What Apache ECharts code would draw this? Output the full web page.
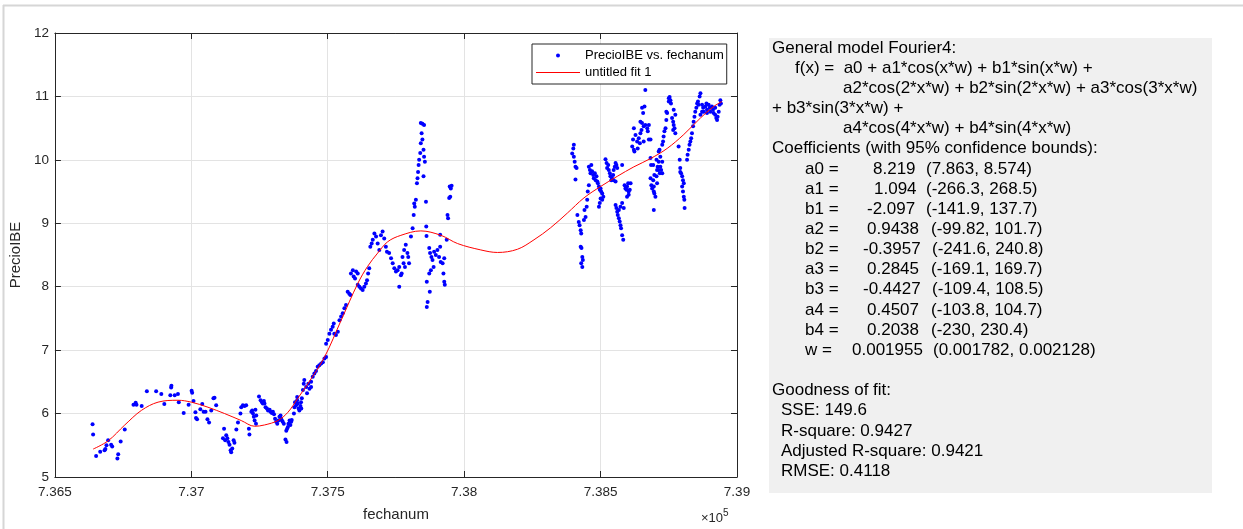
<!DOCTYPE html>
<html>
<head>
<meta charset="utf-8">
<title>PrecioIBE vs. fechanum</title>
<script src="https://cdn.jsdelivr.net/npm/echarts@6/dist/echarts.min.js"></script>
<style>
  html, body { margin: 0; padding: 0; background: #fff; }
  #chart { width: 1243px; height: 529px; }
</style>
</head>
<body>
<div id="chart"></div>
<script>
// datos [fechanum, PrecioIBE]
const precios2016 = [
  [736638,5.83],[736640,5.67],[736651,5.33],[736666,5.40],[736682,5.42],[736685,5.44],[736689,5.50],[736695,5.58],
  [736706,5.51],[736710,5.48],[736729,5.29],[736732,5.36],[736741,5.56],[736756,5.75],[736788,6.14],[736796,6.17],
  [736799,6.14],[736818,6.12],[736837,6.35],[736871,6.35],[736890,6.31],[736901,6.15],[736923,6.29],[736926,6.41],
  [736927,6.44],[736939,6.29],[736951,6.31],[736954,6.18],[736972,6.01],[736990,6.14],[737001,6.36],[737003,6.33],
  [737008,6.20],[737015,6.02],[737017,5.93],[737021,5.91],[737033,6.07],[737040,6.15],[737045,6.03],[737052,6.03],
  [737059,5.91],[737065,5.86],[737073,6.05],[737081,6.24],[737085,6.25],[737091,6.13]
];
const precios2017 = [
  [737120,5.76],[737116,5.61],[737124,5.58],[737132,5.61],[737128,5.66],[737136,5.55],[737140,5.51],[737144,5.42],
  [737146,5.39],[737150,5.45],[737155,5.58],[737158,5.54],[737165,5.75],[737171,5.86],[737180,6.00],[737183,6.10],
  [737189,6.13],[737195,6.12],[737201,6.13],[737213,5.67],[737211,5.76],[737220,6.03],[737223,6.05],[737226,6.00],
  [737229,5.95],[737232,5.89],[737235,6.06],[737238,5.97],[737237,5.84],[737248,6.27],[737254,6.21],[737259,6.18],
  [737262,6.16],[737266,6.20],[737268,6.16],[737272,6.10],[737277,6.08],[737281,6.05],[737287,6.06],[737290,6.03],
  [737295,6.01],[737299,6.03],[737303,5.99],[737307,5.92],[737311,5.87],[737315,5.84],[737319,5.89],[737323,5.95],
  [737327,5.97],[737329,5.92],[737332,5.89],[737335,5.87],[737339,5.84],[737348,5.73],[737351,5.76],[737354,5.79],
  [737356,5.84],[737360,5.89],[737366,5.87],[737368,5.90],[737363,5.82],[737345,5.59],[737349,5.55],[737376,6.00],
  [737378,6.10],[737380,6.18],[737384,6.13],[737388,6.21],[737390,6.16],[737393,6.08],[737396,6.05],[737400,6.12],
  [737402,6.18],[737405,6.24],[737403,6.08],[737388,6.26],[737409,6.37],[737412,6.47],[737414,6.53],[737421,6.42],
  [737424,6.32],[737429,6.47],[737433,6.39],[737439,6.50],[737439,6.42],[737445,6.58],[737451,6.63],[737457,6.67]
];
const precios2018 = [
  [737463,6.74],[737469,6.76],[737476,6.79],[737482,6.81],[737488,6.87],[737494,6.89],[737494,7.10],[737500,7.16],
  [737506,7.26],[737512,7.32],[737518,7.37],[737522,7.42],[737524,7.26],[737530,7.24],[737537,7.29],[737543,7.47],
  [737549,7.53],[737555,7.58],[737561,7.66],[737567,7.71],[737573,7.92],[737579,7.89],[737583,7.87],[737585,8.21],
  [737592,8.26],[737595,8.16],[737600,8.13],[737604,8.24],[737610,8.21],[737610,8.03],[737616,8.00],[737622,7.97],
  [737628,7.95],[737634,8.00],[737640,8.05],[737644,8.10],[737648,8.21],[737652,8.29],[737656,8.63],[737661,8.68],
  [737665,8.74],[737671,8.84],[737677,8.79],[737683,8.68],[737689,8.58],[737695,8.81],[737701,8.87],[737707,8.76],
  [737713,8.63],[737717,8.55],[737725,8.53],[737732,8.45],[737738,8.37],[737744,8.29],[737750,8.24],[737756,8.26],
  [737762,8.31],[737768,8.18],[737762,8.00],[737780,8.58],[737786,8.66],[737792,8.53],[737798,8.37],[737774,8.47],
  [737778,8.37],[737783,8.31],[737795,8.47],[737771,8.21]
];
const precios2019 = [
  [737805,8.79],[737811,8.92],[737815,9.13],[737817,9.31],[737819,9.26],[737823,9.37],[737827,9.63],[737829,9.71],
  [737831,9.81],[737833,9.92],[737835,10.00],[737839,10.11],[737841,10.26],[737844,10.42],[737841,10.58],[737847,10.57],
  [737853,10.55],[737847,10.32],[737851,10.16],[737853,10.05],[737856,9.97],[737851,9.74],[737860,9.34],[737861,8.95],
  [737862,8.80],[737872,8.61],[737875,8.53],[737880,8.47],[737884,8.42],[737890,8.55],[737896,8.50],[737888,8.31],
  [737878,8.26],[737872,8.21],[737902,8.58],[737908,8.47],[737912,8.63],[737914,8.39],[737921,8.37],[737927,8.45],
  [737924,8.21],[737927,8.08],[737929,8.03],[737863,8.08],[737874,7.92],[737866,7.76],[737863,7.68],[737912,8.82],
  [737936,8.74],[737939,9.13],[737941,9.08],[737945,9.40],[737949,9.42],[737951,9.55],[737947,9.58],[737954,9.59]
];
const precios2021 = [
  [738402,10.24],[738400,10.18],[738396,10.10],[738402,10.05],[738405,9.97],[738408,9.89],[738412,9.87],[738408,9.69],
  [738415,9.13],[738420,9.02],[738423,8.97],[738427,8.89],[738429,8.84],[738427,8.63],[738430,8.61],[738433,8.47],
  [738435,8.42],[738429,8.37],[738433,8.31],[738439,9.05],[738445,9.10],[738441,9.21],[738449,9.26],[738451,9.37],
  [738453,9.50],[738457,9.60],[738457,9.89],[738461,9.84],[738463,9.79],[738466,9.92],[738469,9.82],[738473,9.76],
  [738475,9.71],[738479,9.79],[738482,9.68],[738485,9.74],[738488,9.66],[738490,9.63],[738494,9.58],[738497,9.53],
  [738500,9.55],[738502,9.50],[738506,9.47],[738500,9.39],[738497,9.32],[738494,9.26],[738506,9.37],[738510,9.42],
  [738518,10.01],[738522,9.95],[738524,9.87],[738528,9.92],[738530,9.84],[738534,9.79],[738536,9.74],[738539,9.68],
  [738542,9.71],[738546,9.76],[738548,9.84],[738552,9.89],[738555,9.95],[738558,9.92],[738561,9.87],[738548,9.68],
  [738555,9.66],[738555,9.29],[738558,9.24],[738561,9.18],[738563,9.13],[738567,9.08],[738570,9.03],[738573,8.97],
  [738575,8.92],[738579,8.81],[738583,8.74],[738567,9.21],[738573,9.26],[738579,9.32],[738585,9.24],[738579,9.92],
  [738588,9.60],[738591,9.55],[738595,9.53],[738597,9.58],[738601,9.63],[738603,9.50],[738607,9.53],[738610,9.63],
  [738603,9.45],[738597,9.42]
];
const precios2022 = [
  [738616,10.21],[738619,10.32],[738622,10.50],[738628,10.39],[738634,10.29],[738636,10.18],[738640,10.34],[738644,10.26],
  [738646,10.42],[738650,10.47],[738652,10.58],[738658,10.53],[738664,10.55],[738671,10.50],[738677,10.55],[738673,10.45],
  [738677,10.32],[738624,10.13],[738622,10.16],[738664,11.10],[738652,10.82],[738656,10.74],[738661,10.84],[738646,10.60],
  [738658,10.29],[738683,10.32],[738683,10.03],[738685,9.92],[738683,9.71],[738686,9.60],[738689,9.55],[738695,9.50],
  [738701,9.42],[738705,9.74],[738707,9.84],[738709,9.89],[738713,9.97],[738707,9.63],[738695,9.21],[738693,9.92],
  [738697,9.76],[738693,9.68],[738695,9.58],[738697,9.47],[738705,10.00],[738713,9.84],[738717,9.79],[738719,9.89],
  [738722,9.84],[738726,9.79],[738719,10.05],[738726,9.97],[738713,10.13],[738716,10.16],[738726,10.24],[738729,10.29],
  [738731,10.37],[738734,10.45],[738738,10.50],[738741,10.63],[738744,10.74],[738741,10.76],[738750,10.97],[738753,10.99],
  [738756,10.94],[738758,10.89],[738750,10.92],[738762,10.66],[738766,10.60],[738768,10.55],[738771,10.50],[738766,10.47],
  [738774,10.42],[738774,10.71],[738768,10.79],[738786,10.21],[738790,10.00],[738792,9.87],[738795,9.79],[738799,9.74],
  [738802,9.68],[738805,9.63],[738799,9.58],[738802,9.50],[738805,9.42],[738807,9.37],[738808,9.24],[738792,9.81],
  [738817,10.00],[738819,10.08],[738823,10.16],[738826,10.24],[738829,10.29],[738832,10.34],[738835,10.42],[738839,10.53],
  [738841,10.60],[738844,10.68],[738847,10.76],[738851,10.82],[738854,10.89],[738857,10.92],[738863,11.00],[738866,11.05],
  [738859,10.87],[738872,10.87],[738876,10.82],[738878,10.76],[738884,10.84],[738888,10.89],[738890,10.79],[738896,10.87],
  [738900,10.82],[738902,10.76],[738908,10.84],[738912,10.79],[738914,10.74],[738920,10.71],[738924,10.66],[738927,10.63],
  [738933,10.76],[738939,10.94],[738936,10.87],[738941,10.89],[738929,10.68],[738920,10.82],[738872,10.76],[738866,10.71],
  [738890,10.74]
];

// curva ajustada (untitled fit 1)
const fitDates = [736640,736695,736756,736817,736878,736951,737000,737061,737122,737183,737232,737268,737317,737354,
  737390,737427,737488,737549,737610,737646,737683,737720,737768,737841,737915,737976,738061,738122,738195,738256,
  738317,738378,738439,738500,738561,738622,738683,738744,738805,738866,738914,738945];
const fitValues = [5.44,5.57,5.82,6.05,6.18,6.21,6.18,6.10,6.00,5.89,5.80,5.82,5.89,6.02,
  6.24,6.47,6.89,7.47,8.05,8.32,8.53,8.71,8.81,8.88,8.81,8.68,8.58,8.54,8.59,8.74,
  8.93,9.16,9.40,9.58,9.74,9.89,10.02,10.18,10.40,10.66,10.84,10.92];

const xTicks = [736500, 739000, 500];
const yTicks = [5, 12, 1];

// texto del ajuste
const modelLines = [
  ['General model Fourier4:', 772],
  ['f(x) =  a0 + a1*cos(x*w) + b1*sin(x*w) +', 795],
  ['a2*cos(2*x*w) + b2*sin(2*x*w) + a3*cos(3*x*w)', 843],
  ['+ b3*sin(3*x*w) +', 772],
  ['a4*cos(4*x*w) + b4*sin(4*x*w)', 843],
  ['Coefficients (with 95% confidence bounds):', 772]
];
const coefNames = ['a0 =', 'a1 =', 'b1 =', 'a2 =', 'b2 =', 'a3 =', 'b3 =', 'a4 =', 'b4 =', 'w ='];
const coefValues = ['8.219', '1.094', '-2.097', '0.9438', '-0.3957', '0.2845', '-0.4427', '0.4507', '0.2038', '0.001955'];
const coefBounds = ['(7.863, 8.574)', '(-266.3, 268.5)', '(-141.9, 137.7)', '(-99.82, 101.7)', '(-241.6, 240.8)',
  '(-169.1, 169.7)', '(-109.4, 108.5)', '(-103.8, 104.7)', '(-230, 230.4)', '(0.001782, 0.002128)'];
const coefValueX = [873, 874, 867, 867, 863, 867, 863, 867, 867, 852];
const coefBoundX = [926, 926, 926, 931, 932, 931, 932, 931, 931, 933];
const gofLines = [
  ['Goodness of fit:', 772],
  ['SSE: 149.6', 781],
  ['R-square: 0.9427', 781],
  ['Adjusted R-square: 0.9421', 781],
  ['RMSE: 0.4118', 781]
];

const font = 'Liberation Sans, Arial, Helvetica, sans-serif';
const axisColor = '#262626';
const lineH = 20.15;
const rowY = i => 48 + i * lineH;

const panel = [{
  type: 'rect',
  shape: { x: 769, y: 38, width: 443, height: 455 },
  style: { fill: '#f0f0f0' }
}];
const addText = (text, x, row) => panel.push({
  type: 'text', x: x, y: rowY(row),
  style: { text: text, fill: '#000', font: '17px ' + font, textVerticalAlign: 'middle' }
});
modelLines.forEach((l, i) => addText(l[0], l[1], i));
coefNames.forEach((n, i) => {
  addText(n, 805, 6 + i);
  addText(coefValues[i], coefValueX[i], 6 + i);
  addText(coefBounds[i], coefBoundX[i], 6 + i);
});
gofLines.forEach((l, i) => addText(l[0], l[1], 17 + i));

// marco gris de la captura
panel.push(
  { type: 'line', shape: { x1: 3, y1: 5.5, x2: 1243, y2: 5.5 }, style: { stroke: '#d6d6d6', lineWidth: 2 } },
  { type: 'line', shape: { x1: 3.5, y1: 5, x2: 3.5, y2: 529 }, style: { stroke: '#d6d6d6', lineWidth: 2 } },
  {
    type: 'text', x: 701, y: 512,
    style: { text: '×10', fill: '#262626', font: '13px ' + font, textVerticalAlign: 'top', textAlign: 'left' }
  },
  {
    type: 'text', x: 723, y: 508,
    style: { text: '5', fill: '#262626', font: '10px ' + font, textVerticalAlign: 'top', textAlign: 'left' }
  }
);

const fmtX = v => String(+(v / 1e5).toFixed(3));

const chart = echarts.init(document.getElementById('chart'));
const baseAxis = {
  type: 'value',
  axisLine: { show: true, onZero: false, lineStyle: { color: axisColor, width: 1 } },
  axisTick: { show: true, inside: true, length: 6, lineStyle: { color: axisColor } }
};

chart.setOption({
  animation: false,
  textStyle: { fontFamily: font },
  grid: { left: 53, right: 506, top: 33, bottom: 52 },
  legend: {
    left: 532, top: 44,
    orient: 'vertical',
    itemWidth: 44, itemHeight: 4, itemGap: 4, itemTextGap: 1,
    padding: [5, 3, 5, 4],
    backgroundColor: '#fff',
    borderColor: axisColor, borderWidth: 1,
    textStyle: { fontSize: 13, color: '#000', fontFamily: font },
    data: [
      { name: 'PrecioIBE vs. fechanum', icon: 'circle' },
      { name: 'untitled fit 1', icon: 'path://M0,0L88,0L88,2L0,2Z', itemStyle: { color: '#ff0000', borderWidth: 0 } }
    ]
  },
  xAxis: [
    Object.assign({}, baseAxis, {
      position: 'bottom', min: xTicks[0], max: xTicks[1], interval: xTicks[2],
      axisLabel: { formatter: fmtX, color: axisColor, fontSize: 13.5, margin: 8 },
      splitLine: { show: true, lineStyle: { color: '#e3e3e3' } },
      name: 'fechanum', nameLocation: 'middle', nameGap: 30,
      nameTextStyle: { fontSize: 15, color: axisColor }
    }),
    Object.assign({}, baseAxis, {
      position: 'top', min: xTicks[0], max: xTicks[1], interval: xTicks[2],
      axisLabel: { show: false }, splitLine: { show: false }
    })
  ],
  yAxis: [
    Object.assign({}, baseAxis, {
      position: 'left', min: yTicks[0], max: yTicks[1], interval: yTicks[2],
      axisLabel: { color: axisColor, fontSize: 13.5, margin: 6 },
      splitLine: { show: true, lineStyle: { color: '#e3e3e3' } },
      name: 'PrecioIBE', nameLocation: 'middle', nameGap: 27,
      nameTextStyle: { fontSize: 15, color: axisColor }
    }),
    Object.assign({}, baseAxis, {
      position: 'right', min: yTicks[0], max: yTicks[1], interval: yTicks[2],
      axisLabel: { show: false }, splitLine: { show: false }
    })
  ],
  series: [
    {
      name: 'PrecioIBE vs. fechanum',
      type: 'scatter',
      symbolSize: 4,
      itemStyle: { color: '#0000ff', opacity: 1 },
      data: [].concat(precios2016, precios2017, precios2018, precios2019, precios2021, precios2022)
    },
    {
      name: 'untitled fit 1',
      type: 'line',
      smooth: 0.35,
      symbol: 'none',
      lineStyle: { color: '#ff0000', width: 1 },
      itemStyle: { color: '#ff0000' },
      data: fitDates.map((d, i) => [d, fitValues[i]]),
      z: 3
    }
  ],
  graphic: panel
});
</script>
</body>
</html>
